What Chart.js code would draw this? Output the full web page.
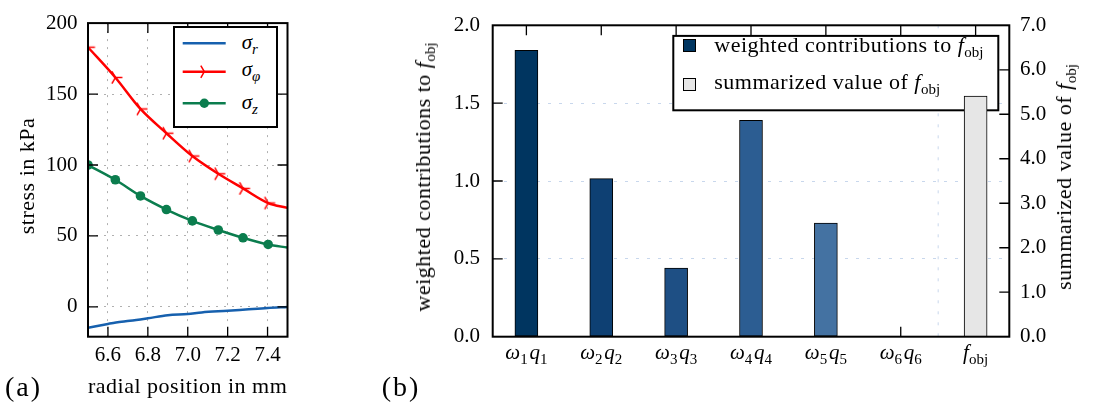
<!DOCTYPE html>
<html lang="en">
<head>
<meta charset="utf-8">
<title>Stress distribution and weighted objective contributions</title>
<script src="https://cdn.jsdelivr.net/npm/chart.js@4.4.1/dist/chart.umd.min.js"></script>
<style>
html,body{margin:0;padding:0;background:#fff;}
#wrap{position:relative;width:1102px;height:410px;overflow:hidden;font-family:"Liberation Serif","Times New Roman",serif;color:#000;}
.pane{position:absolute;top:0;}
.pane canvas{display:block;}
.t{position:absolute;white-space:nowrap;font-size:21px;line-height:21px;}
.w{font-size:22px;line-height:22px;letter-spacing:0.5px;}
.m{font-style:italic;}
.s{font-size:15px;position:relative;top:5px;line-height:0;letter-spacing:0;}
.rot{transform:translate(-50%,-50%) rotate(-90deg);}
.cx{transform:translateX(-50%);}
.legA{position:absolute;left:173.3px;top:25.7px;width:101px;height:98.6px;border:2px solid #000;background:#fff;}
.sw{position:absolute;width:13px;height:13px;box-sizing:border-box;border:1px solid #000;}
.big{font-size:28px;line-height:28px;letter-spacing:2px;}
</style>
</head>
<body>
<div id="wrap">
  <div class="pane" style="left:0;width:300px;height:410px;"><canvas id="chartA" width="300" height="410"></canvas></div>
  <div class="pane" style="left:380px;width:722px;height:410px;"><canvas id="chartB" width="722" height="410"></canvas></div>

  <!-- axis titles of panel (a) -->
  <div class="t w cx" style="left:187.7px;top:374.6px;">radial position in mm</div>
  <div class="t w rot" style="left:26.9px;top:175.9px;">stress in kPa</div>

  <!-- legend of panel (a) -->
  <div class="legA"></div>
  <svg style="position:absolute;left:182px;top:30px;" width="46" height="84">
    <line x1="0.7" y1="13.3" x2="43.7" y2="13.3" stroke="#1660ae" stroke-width="2.5"/>
    <line x1="0.7" y1="41.7" x2="43.7" y2="41.7" stroke="#ff0000" stroke-width="2.5"/>
    <path d="M22.3 41.7 L29.3 41.7 M22.3 41.7 L18.8 35.64 M22.3 41.7 L18.8 47.76" stroke="#ff0000" stroke-width="1.5" fill="none"/>
    <line x1="0.7" y1="73.3" x2="43.7" y2="73.3" stroke="#0b7d4e" stroke-width="2.5"/>
    <circle cx="22.3" cy="73.3" r="4.7" fill="#0b7d4e"/>
  </svg>
  <div class="t" style="left:241.7px;top:31.7px;"><span class="m">σ</span><span class="s m">r</span></div>
  <div class="t" style="left:241.7px;top:59.1px;"><span class="m">σ</span><span class="s m">φ</span></div>
  <div class="t" style="left:241.7px;top:91.7px;"><span class="m">σ</span><span class="s m">z</span></div>

  <!-- legend of panel (b): text and swatches (frame drawn by chart plugin) -->
  <div class="sw" style="left:682.7px;top:39.3px;background:#003560;"></div>
  <div class="t w" style="left:714.3px;top:33.6px;">weighted contributions to <span class="m">f</span><span class="s">obj</span></div>
  <div class="sw" style="left:682.7px;top:77.7px;background:#e6e6e6;"></div>
  <div class="t w" style="left:714.3px;top:71.1px;">summarized value of <span class="m">f</span><span class="s">obj</span></div>

  <!-- axis titles of panel (b) -->
  <div class="t w rot" style="left:422.6px;top:176.7px;">weighted contributions to <span class="m">f</span><span class="s">obj</span></div>
  <div class="t w rot" style="left:1064.1px;top:176.7px;">summarized value of <span class="m">f</span><span class="s">obj</span></div>

  <!-- panel letters -->
  <div class="t big" style="left:5px;top:373px;">(a)</div>
  <div class="t big" style="left:381.7px;top:373px;">(b)</div>

  <div id="xlabB"></div>
</div>

<script>
// ---------------- data : panel (a) ----------------
const radialPos   = [6.5, 6.637, 6.763, 6.893, 7.023, 7.153, 7.277, 7.403, 7.5];
const sigmaPhi    = [183, 161.7, 139.5, 122.4, 106.3, 93.8, 83.5, 73.2, 69.8];
const sigmaZ      = [100, 89.6, 78.2, 68.6, 60.6, 54.2, 48.7, 44.0, 41.8];
const radialPosR  = [6.5, 6.6, 6.64, 6.71, 6.8, 6.9, 7.0, 7.07, 7.2, 7.29, 7.4, 7.5];
const sigmaR      = [-14.7, -12.0, -11.0, -9.8, -8.0, -5.9, -5.0, -3.9, -2.7, -1.8, -0.7, 0];
const radialTicks = [6.6, 6.8, 7.0, 7.2, 7.4];
const stressTicks = [0, 50, 100, 150, 200];

// ---------------- data : panel (b) ----------------
const categories  = ['ω1q1', 'ω2q2', 'ω3q3', 'ω4q4', 'ω5q5', 'ω6q6', 'f_obj'];
const weighted    = [1.84, 1.015, 0.44, 1.39, 0.73, 0];
const summarized  = [5.41];
const leftTicks   = [0, 0.5, 1.0, 1.5, 2.0];
const rightTicks  = [0, 1, 2, 3, 4, 5, 6, 7];

// ---------------- styling ----------------
const FONT = {family: '"Liberation Serif", "Times New Roman", serif', size: 21};
const barColors = ['#003560', '#0e4073', '#1e4f84', '#2c5d92', '#4472a2', '#4f7fb0'];

function triRight(color, r, lw) {
  const s = Math.ceil(2 * r + 2 * lw + 2);
  const c = document.createElement('canvas');
  c.width = s; c.height = s;
  const g = c.getContext('2d');
  g.strokeStyle = color; g.lineWidth = lw;
  const cx = s / 2, cy = s / 2;
  g.beginPath();
  [0, 120, 240].forEach(a => {
    const t = a * Math.PI / 180;
    g.moveTo(cx, cy);
    g.lineTo(cx + r * Math.cos(t), cy - r * Math.sin(t));
  });
  g.stroke();
  return c;
}

// frame + inward tick marks + optional separator / legend box
const framePlugin = {
  id: 'frame',
  beforeDatasetsDraw(chart, args, o) {
    const ctx = chart.ctx, a = chart.chartArea;
    if (o.separatorAt !== undefined) {
      const px = chart.scales.x.getPixelForValue(o.separatorAt);
      ctx.save();
      ctx.strokeStyle = o.gridColor; ctx.lineWidth = 1; ctx.setLineDash(o.dash);
      ctx.beginPath(); ctx.moveTo(px, a.top); ctx.lineTo(px, a.bottom); ctx.stroke();
      ctx.restore();
    }
    if (o.ticksUnder) drawInnerTicks(chart, o);
  },
  afterDatasetDraw(chart, args, o) {
    if (!o.legendBox || args.index !== o.legendBox.after) return;
    const ctx = chart.ctx, a = chart.chartArea, L = o.legendBox;
    const x = a.right - L.right - L.w, y = a.top + L.top;
    ctx.save();
    ctx.fillStyle = '#fff'; ctx.fillRect(x, y, L.w, L.h);
    ctx.strokeStyle = '#000'; ctx.lineWidth = 2; ctx.strokeRect(x, y, L.w, L.h);
    ctx.restore();
  },
  afterDatasetsDraw(chart, args, o) {
    if (!o.ticksUnder) drawInnerTicks(chart, o);
    const ctx = chart.ctx, a = chart.chartArea;
    ctx.save();
    ctx.strokeStyle = '#000'; ctx.lineWidth = 2;
    ctx.strokeRect(a.left, a.top, a.right - a.left, a.bottom - a.top);
    ctx.restore();
  }
};
function drawInnerTicks(chart, o) {
  const ctx = chart.ctx, a = chart.chartArea, len = o.tickLen;
  ctx.save();
  ctx.strokeStyle = '#000'; ctx.lineWidth = 1.3;
  ctx.beginPath();
  o.marks.forEach(m => {
    const sc = chart.scales[m.scale];
    sc.ticks.forEach(t => {
      const v = t.value;
      if (Math.abs(v - sc.min) < 1e-9 || Math.abs(v - sc.max) < 1e-9) return;
      const p = sc.getPixelForValue(v);
      m.sides.forEach(side => {
        if (side === 'bottom') { ctx.moveTo(p, a.bottom); ctx.lineTo(p, a.bottom - len); }
        if (side === 'top')    { ctx.moveTo(p, a.top);    ctx.lineTo(p, a.top + len); }
        if (side === 'left')   { ctx.moveTo(a.left, p);   ctx.lineTo(a.left + len, p); }
        if (side === 'right')  { ctx.moveTo(a.right, p);  ctx.lineTo(a.right - len, p); }
      });
    });
  });
  ctx.stroke();
  ctx.restore();
}
Chart.register(framePlugin);

// ---------------- chart (a) ----------------
const lastIdx = radialPos.length - 1;
new Chart(document.getElementById('chartA'), {
  type: 'line',
  data: {
    datasets: [
      {
        label: 'σ_r',
        data: radialPosR.map((x, i) => ({x, y: sigmaR[i]})),
        borderColor: '#1660ae', borderWidth: 2.5, pointRadius: 0,
        cubicInterpolationMode: 'monotone'
      },
      {
        label: 'σ_φ',
        data: radialPos.map((x, i) => ({x, y: sigmaPhi[i]})),
        borderColor: '#ff0000', borderWidth: 2.5,
        pointStyle: triRight('#ff0000', 7, 1.5),
        pointRadius: c => c.dataIndex === lastIdx ? 0 : 6,
        cubicInterpolationMode: 'monotone'
      },
      {
        label: 'σ_z',
        data: radialPos.map((x, i) => ({x, y: sigmaZ[i]})),
        borderColor: '#0b7d4e', borderWidth: 2.5,
        pointStyle: 'circle', backgroundColor: '#0b7d4e', pointBorderColor: '#0b7d4e', pointBorderWidth: 0,
        pointRadius: c => c.dataIndex === lastIdx ? 0 : 4.8,
        cubicInterpolationMode: 'monotone'
      }
    ]
  },
  options: {
    responsive: false, animation: false, events: [],
    layout: {padding: {top: 15, right: 12.5, left: 0, bottom: 0}},
    plugins: {
      legend: {display: false}, tooltip: {enabled: false},
      frame: {
        tickLen: 10, ticksUnder: false,
        marks: [{scale: 'x', sides: ['top', 'bottom']}, {scale: 'y', sides: ['left', 'right']}]
      }
    },
    scales: {
      x: {
        type: 'linear', min: 6.5, max: 7.5,
        afterBuildTicks: s => { s.ticks = radialTicks.map(v => ({value: v})); },
        afterFit: s => { s.height = 73.3; },
        ticks: {font: FONT, color: '#000', padding: 6.4, maxRotation: 0, autoSkip: false, callback: v => Number(v).toFixed(1)},
        grid: {color: '#b0b0b0', lineWidth: 1, drawTicks: false},
        border: {display: false, dash: [2, 6]}
      },
      y: {
        type: 'linear', min: -21, max: 200,
        afterBuildTicks: s => { s.ticks = stressTicks.map(v => ({value: v})); },
        afterFit: s => { s.width = 88; },
        ticks: {font: FONT, color: '#000', padding: 10.5, callback: v => String(v)},
        grid: {color: '#b0b0b0', lineWidth: 1, drawTicks: false},
        border: {display: false, dash: [2, 6]}
      }
    }
  }
});

// ---------------- chart (b) ----------------
const GRID_B = '#c8d7ec';
const chartB = new Chart(document.getElementById('chartB'), {
  type: 'bar',
  data: {
    datasets: [
      {
        label: 'weighted contributions to f_obj',
        data: weighted.map((v, i) => ({x: i, y: v})),
        yAxisID: 'y', grouped: false, order: 1,
        backgroundColor: barColors, borderColor: '#000', borderWidth: 1, borderSkipped: false,
        barThickness: 23
      },
      {
        label: 'summarized value of f_obj',
        data: summarized.map(v => ({x: categories.length - 1, y: v})),
        yAxisID: 'y2', grouped: false, order: 0,
        backgroundColor: '#e6e6e6', borderColor: '#000', borderWidth: 1, borderSkipped: false,
        barThickness: 23
      }
    ]
  },
  options: {
    responsive: false, animation: false, events: [],
    layout: {padding: {top: 16.7, right: 0, left: 0, bottom: 0}},
    plugins: {
      legend: {display: false}, tooltip: {enabled: false},
      frame: {
        tickLen: 10, ticksUnder: true,
        separatorAt: categories.length - 1.5, gridColor: GRID_B, dash: [3, 8],
        legendBox: {after: 0, right: 11, top: 10.6, w: 325, h: 74.4},
        marks: [{scale: 'x', sides: ['top', 'bottom']}, {scale: 'y', sides: ['left']}, {scale: 'y2', sides: ['right']}]
      }
    },
    scales: {
      x: {
        type: 'linear', min: -0.45, max: categories.length - 0.55, offset: false,
        afterBuildTicks: s => { s.ticks = categories.map((c, i) => ({value: i})); },
        afterFit: s => { s.height = 73.3; },
        ticks: {display: false},
        grid: {display: false, offset: false, drawTicks: false},
        border: {display: false}
      },
      y: {
        type: 'linear', position: 'left', min: 0, max: 2,
        afterBuildTicks: s => { s.ticks = leftTicks.map(v => ({value: v})); },
        afterFit: s => { s.width = 112.7; },
        ticks: {font: FONT, color: '#000', padding: 12.7, callback: v => Number(v).toFixed(1)},
        grid: {
          color: c => (c.tick && c.tick.value > 0 && c.tick.value < 2) ? GRID_B : 'rgba(0,0,0,0)',
          lineWidth: 1, drawTicks: false
        },
        border: {display: false, dash: [3, 8]}
      },
      y2: {
        type: 'linear', position: 'right', min: 0, max: 7,
        afterBuildTicks: s => { s.ticks = rightTicks.map(v => ({value: v})); },
        afterFit: s => { s.width = 92.7; },
        ticks: {font: FONT, color: '#000', padding: 10.7, callback: v => Number(v).toFixed(1)},
        grid: {display: false, drawTicks: false},
        border: {display: false}
      }
    }
  }
});

// x tick labels of panel (b) as rich text, placed through the chart's x scale
(function () {
  const host = document.getElementById('xlabB');
  const xs = chartB.scales.x;
  const paneLeft = 380;
  function mathLabel(s) {
    const m = s.match(/^ω(\d)q(\d)$/);
    if (m) return '<span class="m">ω</span><span class="s">' + m[1] + '</span>&#8202;<span class="m">q</span><span class="s">' + m[2] + '</span>';
    if (s === 'f_obj') return '<span class="m">f</span><span class="s">obj</span>';
    return s;
  }
  categories.forEach((c, i) => {
    const d = document.createElement('div');
    d.className = 't cx';
    d.style.left = (paneLeft + xs.getPixelForValue(i)) + 'px';
    d.style.top = '342.4px';
    d.innerHTML = mathLabel(c);
    host.appendChild(d);
  });
})();
</script>
</body>
</html>
